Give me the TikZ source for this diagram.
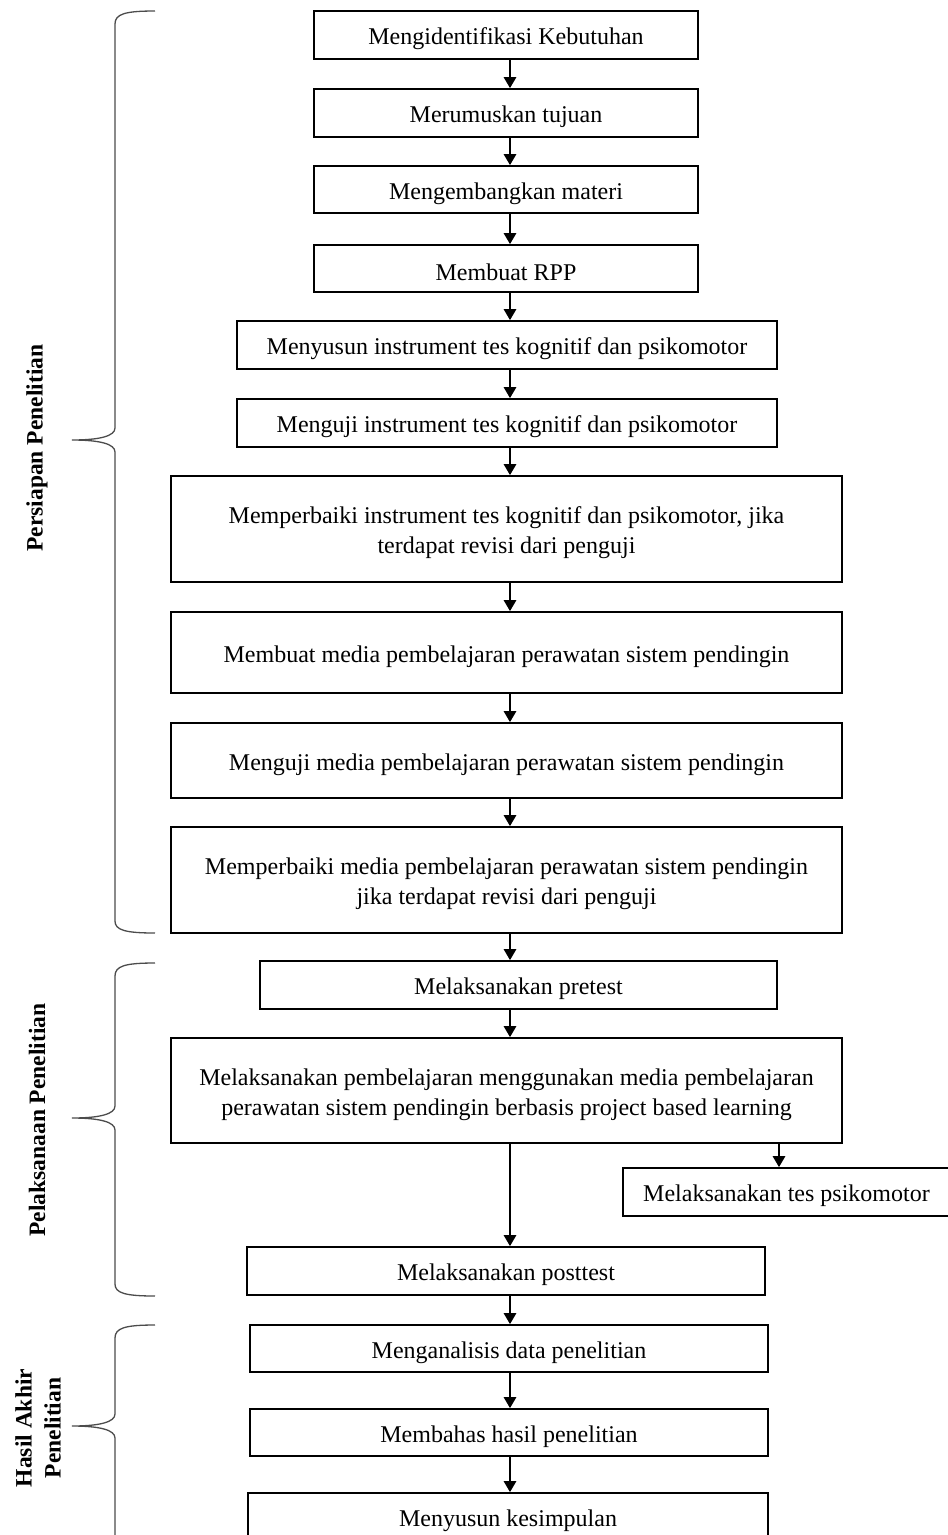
\documentclass[tikz,border=0pt]{standalone}
\usepackage{fontspec}
\setmainfont{Liberation Serif}
\usetikzlibrary{arrows.meta,calc}
\tikzset{
  box/.style={draw=black, line width=1.6pt, rectangle, inner sep=0pt},
  txt/.style={inner sep=0pt, align=center, font=\fontsize{24}{30}\selectfont},
  flow/.style={line width=2.6pt, -{Triangle[width=12pt,length=11pt]}},
  brace/.style={draw=black!70, line width=1.3pt},
  lab/.style={font=\fontsize{23.5}{29}\selectfont\bfseries, rotate=90, align=center}
}
\newcommand{\bx}[6]{% name, x1, y1, x2, y2, text
  \node[box, minimum width={(#4-#2)*1pt}, minimum height={(#5-#3)*1pt}] (#1) at ({(#2+#4)/2},{(#3+#5)/2}) {};
  \node[txt] (#1t) at ($(#1.center)+(0,4)$) {#6};}
\begin{document}
\begin{tikzpicture}[x=1pt,y=-1pt]
\useasboundingbox (0,0) rectangle (948,1535);
\begin{scope}
\clip (0,0) rectangle (948,1535);
\bx{n1}{314}{11}{698}{59}{Mengidentifikasi Kebutuhan}
\bx{n2}{314}{89}{698}{137}{Merumuskan tujuan}
\bx{n3}{314}{166}{698}{213}{Mengembangkan materi}
\bx{n4}{314}{245}{698}{292}{Membuat RPP}
\bx{n5}{237}{321}{777}{369}{Menyusun instrument tes kognitif dan psikomotor}
\bx{n6}{237}{399}{777}{447}{Menguji instrument tes kognitif dan psikomotor}
\bx{n7}{171}{476}{842}{582}{Memperbaiki instrument tes kognitif dan psikomotor, jika\\terdapat revisi dari penguji}
\bx{n8}{171}{612}{842}{693}{Membuat media pembelajaran perawatan sistem pendingin}
\bx{n9}{171}{723}{842}{798}{Menguji media pembelajaran perawatan sistem pendingin}
\bx{n10}{171}{827}{842}{933}{Memperbaiki media pembelajaran perawatan sistem pendingin\\jika terdapat revisi dari penguji}
\bx{n11}{260}{961}{777}{1009}{Melaksanakan pretest}
\bx{n12}{171}{1038}{842}{1143}{Melaksanakan pembelajaran menggunakan media pembelajaran\\perawatan sistem pendingin berbasis project based learning}
\bx{n13}{623}{1168}{956}{1216}{\hspace*{-6pt}Melaksanakan tes psikomotor}
\bx{n14}{247}{1247}{765}{1295}{Melaksanakan posttest}
\bx{n15}{250}{1325}{768}{1372}{Menganalisis data penelitian}
\bx{n16}{250}{1409}{768}{1456}{Membahas hasil penelitian}
\bx{n17}{248}{1493}{768}{1541}{Menyusun kesimpulan}
\end{scope}
\coordinate (sp) at (510,0);
\foreach \a/\b in {n1/n2,n2/n3,n3/n4,n4/n5,n5/n6,n6/n7,n7/n8,n8/n9,n9/n10,n10/n11,n11/n12,n12/n14,n14/n15,n15/n16,n16/n17}
  \draw[flow] (\a.south -| sp) -- (\b.north -| sp);
\coordinate (sp2) at (779,0);
\draw[flow] (n12.south -| sp2) -- (n13.north -| sp2);
% braces
\draw[brace] (155,11) .. controls (125,11) and (115,14) .. (115,24) -- (115,428)
  .. controls (115,436) and (100,440) .. (72,440)
  .. controls (100,440) and (115,444) .. (115,452) -- (115,921)
  .. controls (115,930) and (125,933) .. (155,933);
\draw[brace] (155,963) .. controls (125,963) and (115,966) .. (115,976) -- (115,1106)
  .. controls (115,1114) and (100,1118) .. (72,1118)
  .. controls (100,1118) and (115,1122) .. (115,1130) -- (115,1284)
  .. controls (115,1293) and (125,1296) .. (155,1296);
\draw[brace] (155,1325) .. controls (125,1325) and (115,1328) .. (115,1338) -- (115,1414)
  .. controls (115,1422) and (100,1426) .. (72,1426)
  .. controls (100,1426) and (115,1430) .. (115,1438) -- (115,1540);
\node[lab] (l1) at (37,448) {Persiapan Penelitian};
\node[lab] (l2) at (37,1120) {Pelaksanaan Penelitian};
\node[lab] (l3) at (38,1428) {Hasil Akhir\\Penelitian};
\end{tikzpicture}
\end{document}
